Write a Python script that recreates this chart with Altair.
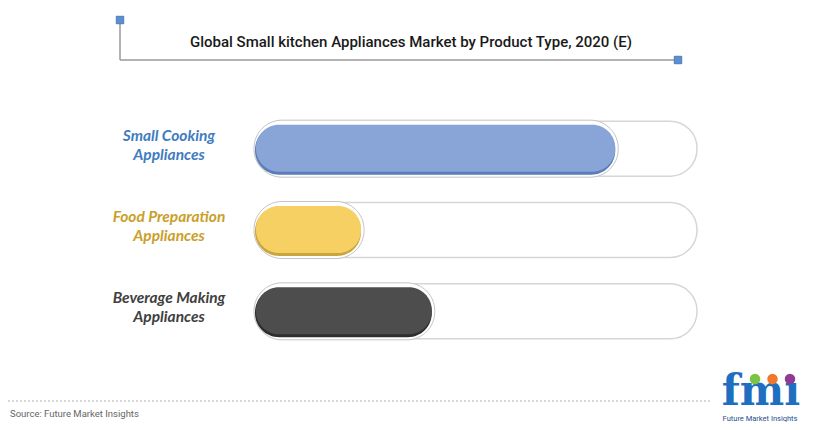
import altair as alt
import pandas as pd

# ---- data ----
categories = ["Small Cooking\nAppliances", "Food Preparation\nAppliances", "Beverage Making\nAppliances"]
values = [81.5, 24, 40]
track_max = [100, 100, 100]
fill_colors = ["#89a5d7", "#f7d063", "#4d4d4d"]
edge_colors = ["#5b7cb8", "#c9a540", "#2e2e2e"]
label_colors = ["#3f7cc0", "#c9a02a", "#404040"]

title_text = "Global Small kitchen Appliances Market by Product Type, 2020 (E)"
source_text = "Source: Future Market Insights"
logo_text = "fm\u0131"
logo_sub = "Future Market Insights"
dot_colors = ["#7cc243", "#f0782d", "#8e3b97"]
dot_index = [0, 1, 2]

df = pd.DataFrame({
    "cat": categories,
    "value": values,
    "zero": [0, 0, 0],
    "max": track_max,
})

W, H = 804, 414
xscale = alt.Scale(domain=[0, 100], range=[247, 689])
yscale = alt.Scale(domain=categories, range=[100, 344], paddingInner=0, paddingOuter=0)

X = alt.X("zero:Q", scale=xscale, axis=None)
Y = alt.Y("cat:N", scale=yscale, axis=None, sort=categories)

base = alt.Chart(df)

track = base.mark_bar(size=55, cornerRadius=27, fill="white", stroke="#d6d6d6", strokeWidth=1.5).encode(
    x=X, x2="max:Q", y=Y
)
ring = base.mark_bar(size=57, cornerRadius=28, fill="white", stroke="#c4c4c4", strokeWidth=1,
                     xOffset=-1, x2Offset=3).encode(
    x=X, x2="value:Q", y=Y
)
shadow = base.mark_bar(size=49, cornerRadius=24, yOffset=1.5).encode(
    x=X, x2="value:Q", y=Y,
    color=alt.Color("cat:N", scale=alt.Scale(domain=categories, range=edge_colors), legend=None),
)
fill = base.mark_bar(size=47, cornerRadius=23, yOffset=-0.5, xOffset=1).encode(
    x=X, x2="value:Q", y=Y,
    color=alt.Color("cat:N", scale=alt.Scale(domain=categories, range=fill_colors), legend=None),
)
labels = base.mark_text(font="Lato", fontSize=15.5, fontWeight="bold", fontStyle="italic",
                        align="center", baseline="middle", lineBreak="\n", lineHeight=19, dy=-13).encode(
    x=alt.value(161), y=Y, text="cat:N",
    color=alt.Color("cat:N", scale=alt.Scale(domain=categories, range=label_colors), legend=None),
)

one = pd.DataFrame({"t": [title_text]})
title = alt.Chart(one).mark_text(font="Roboto", fontSize=15, fontWeight=500, color="#1a1a1a",
                                 align="center", baseline="middle").encode(
    x=alt.value(403), y=alt.value(34), text="t:N")

vline = alt.Chart(one).mark_rule(color="#9a9a9a", strokeWidth=1.5).encode(
    x=alt.value(112), y=alt.value(14), y2=alt.value(52))
hline = alt.Chart(one).mark_rule(color="#9a9a9a", strokeWidth=1.5).encode(
    x=alt.value(112), x2=alt.value(670), y=alt.value(52))
sq1 = alt.Chart(one).mark_square(size=56, color="#5b8fd2", opacity=1, stroke="#3f6fae", strokeWidth=0.8).encode(
    x=alt.value(112), y=alt.value(12))
sq2 = alt.Chart(one).mark_square(size=56, color="#5b8fd2", opacity=1, stroke="#3f6fae", strokeWidth=0.8).encode(
    x=alt.value(670), y=alt.value(52))

dotted = alt.Chart(one).mark_rule(color="#b0b0b0", strokeWidth=1, strokeDash=[2, 2]).encode(
    x=alt.value(0), x2=alt.value(702), y=alt.value(393))
src = alt.Chart(pd.DataFrame({"t": [source_text]})).mark_text(
    font="Roboto", fontSize=9.5, color="#666666", align="left", baseline="middle").encode(
    x=alt.value(2), y=alt.value(406), text="t:N")

logo = alt.Chart(pd.DataFrame({"t": [logo_text]})).mark_text(
    font="DejaVu Serif", fontSize=42, fontWeight="bold", color="#1f6fc1", align="center",
    baseline="bottom").encode(x=alt.value(753), y=alt.value(406), text="t:N")
logo2 = alt.Chart(pd.DataFrame({"t": [logo_sub]})).mark_text(
    font="Roboto", fontSize=7.5, color="#1f4f8f", align="center", baseline="middle").encode(
    x=alt.value(752), y=alt.value(410.5), text="t:N")
dots_df = pd.DataFrame({"i": dot_index, "c": dot_colors})
dots = alt.Chart(dots_df).mark_circle(size=110, opacity=1).encode(
    x=alt.X("i:Q", scale=alt.Scale(domain=[0, 2], range=[747, 782]), axis=None),
    y=alt.value(371),
    color=alt.Color("c:N", scale=None),
)

chart = alt.layer(track, ring, shadow, fill, labels, title, vline, hline, sq1, sq2,
                  dotted, src, logo, logo2, dots).resolve_scale(color="independent", x="independent").properties(
    width=W, height=H, autosize=alt.AutoSizeParams(type="none"), padding=0,
    background="white",
).configure_view(stroke=None)

chart.save("out.html", embed_options={"renderer": "svg", "actions": False})
